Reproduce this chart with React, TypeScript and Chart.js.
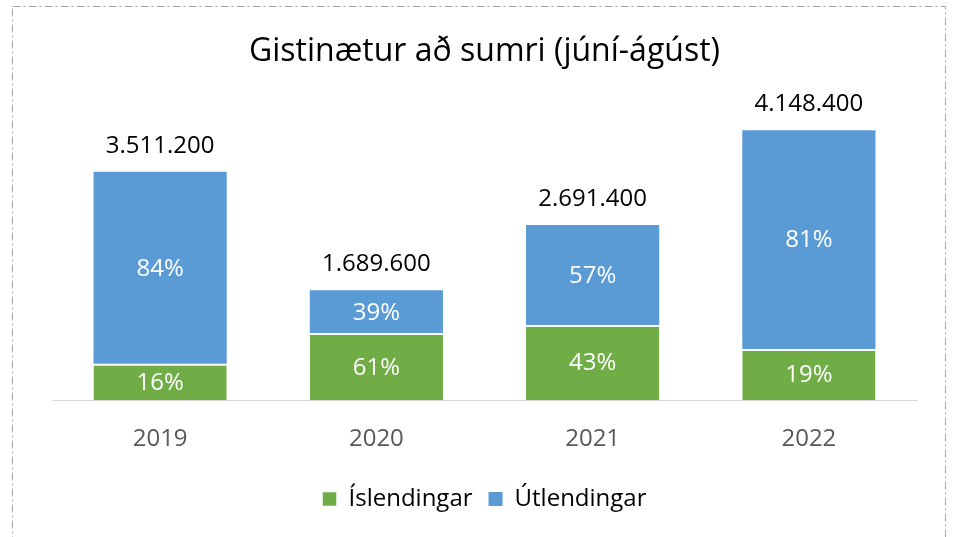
import React, { useEffect, useRef } from "react";
import { Chart, registerables } from "chart.js";

Chart.register(...registerables);

const years = ["2019", "2020", "2021", "2022"];
const islendingar = [561800, 1030700, 1157300, 788200];
const utlendingar = [2949400, 658900, 1534100, 3360200];
const totalLabels = ["3.511.200", "1.689.600", "2.691.400", "4.148.400"];
const pctIsl = ["16%", "61%", "43%", "19%"];
const pctUtl = ["84%", "39%", "57%", "81%"];

const FONT = "'Open Sans', 'Noto Sans', sans-serif";

const borderPlugin = {
  id: "excelBorder",
  beforeDraw(chart: any) {
    const ctx = chart.ctx;
    ctx.save();
    ctx.fillStyle = "#ffffff";
    ctx.fillRect(0, 0, chart.width, chart.height);
    ctx.strokeStyle = "#a6a6a6";
    ctx.lineWidth = 1;
    ctx.setLineDash([8, 3, 2, 3]);
    ctx.strokeRect(12.5, 6.5, 933, 600);
    ctx.restore();
  },
};

const labelPlugin = {
  id: "segLabels",
  afterDatasetsDraw(chart: any) {
    const ctx = chart.ctx;
    ctx.save();
    ctx.textAlign = "center";
    ctx.textBaseline = "middle";
    ctx.font = `24px ${FONT}`;
    const m0 = chart.getDatasetMeta(0);
    const m1 = chart.getDatasetMeta(1);
    const pcts = [pctIsl, pctUtl];
    [m0, m1].forEach((meta: any, di: number) => {
      meta.data.forEach((bar: any, i: number) => {
        const mid = (bar.y + bar.base) / 2;
        ctx.fillStyle = "#ffffff";
        ctx.fillText(pcts[di][i], bar.x, mid + 1);
      });
    });
    m1.data.forEach((bar: any, i: number) => {
      ctx.fillStyle = "#000000";
      ctx.fillText(totalLabels[i], bar.x, bar.y - 26);
    });
    ctx.restore();
  },
};

export default function App() {
  const ref = useRef<HTMLCanvasElement>(null);
  useEffect(() => {
    if (!ref.current) return;
    const chart = new Chart(ref.current, {
      type: "bar",
      data: {
        labels: years,
        datasets: [
          {
            label: "Íslendingar",
            data: islendingar,
            backgroundColor: "#70AD47",
            borderColor: "#ffffff",
            borderWidth: { top: 2, left: 0, right: 0, bottom: 0 },
            borderSkipped: false,
          },
          {
            label: "Útlendingar",
            data: utlendingar,
            backgroundColor: "#5B9BD5",
            borderWidth: 0,
          },
        ],
      },
      options: {
        animation: false,
        responsive: false,
        layout: { padding: { left: 52, right: 37, top: 0, bottom: 16 } },
        datasets: { bar: { categoryPercentage: 1, barPercentage: 0.616 } },
        scales: {
          x: {
            stacked: true,
            grid: { display: false },
            border: { display: true, color: "#d9d9d9", width: 1 },
            ticks: { color: "#595959", font: { family: FONT, size: 24 }, padding: 17 },
          },
          y: {
            stacked: true,
            display: false,
            min: 0,
            max: 4760000,
          },
        },
        plugins: {
          legend: {
            position: "bottom",
            labels: {
              boxWidth: 14,
              boxHeight: 14,
              color: "#000000",
              font: { family: FONT, size: 24 },
              padding: 16,
            },
          },
          title: {
            display: true,
            text: "Gistinætur að sumri (júní-ágúst)",
            color: "#000000",
            font: { family: FONT, size: 32, weight: "normal" },
            padding: { top: 33, bottom: 19 },
          },
          tooltip: { enabled: false },
        },
      },
      plugins: [borderPlugin, labelPlugin],
    });
    return () => chart.destroy();
  }, []);
  return (
    <div style={{ position: "fixed", left: 0, top: 0, width: 954, height: 537 }}>
      <canvas ref={ref} width={954} height={537} style={{ width: 954, height: 537 }} />
    </div>
  );
}
